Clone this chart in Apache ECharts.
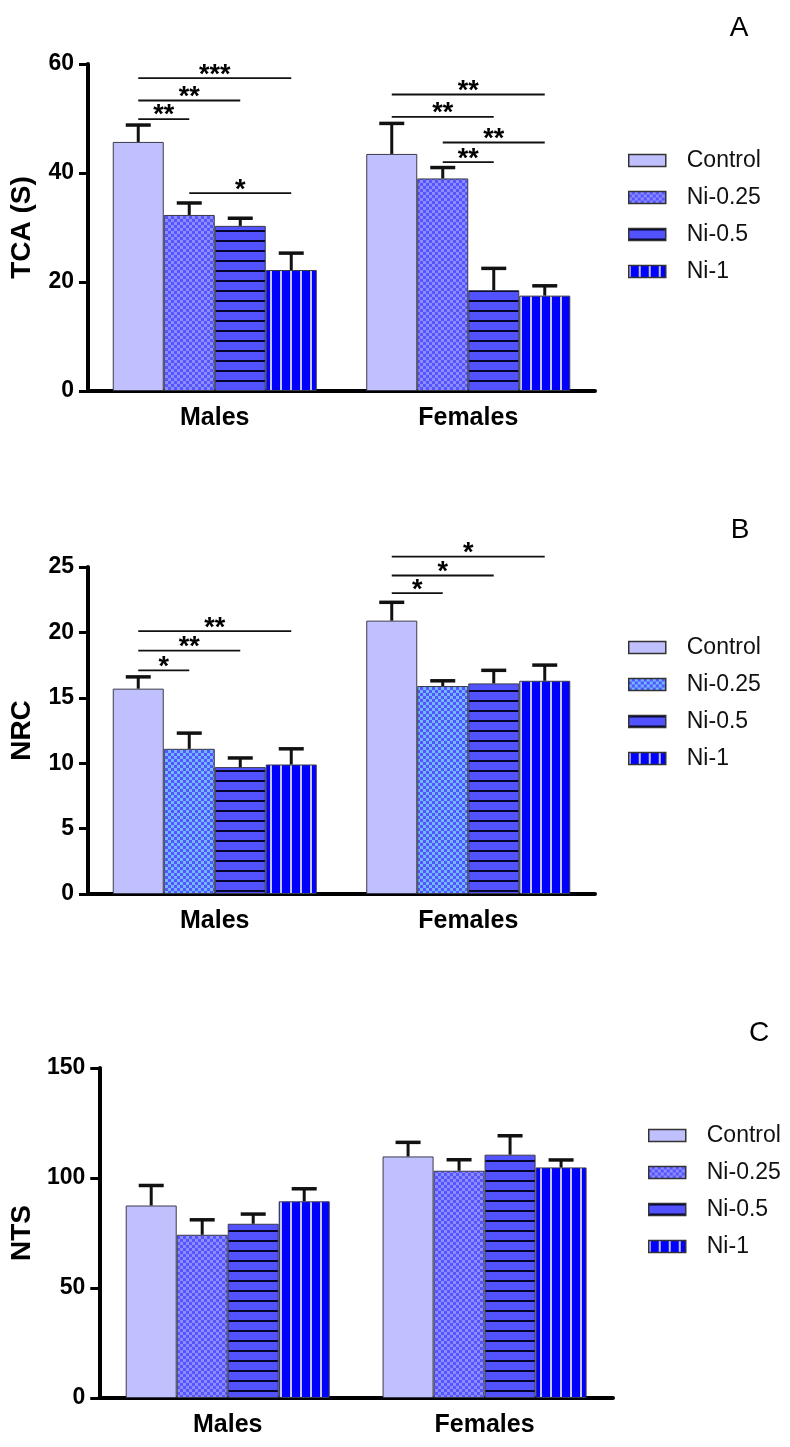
<!DOCTYPE html>
<html>
<head>
<meta charset="utf-8">
<script src="https://cdn.jsdelivr.net/npm/echarts@6/dist/echarts.min.js"></script>
<style>
html,body{margin:0;padding:0;background:#fff;}
#chart{width:790px;height:1447px;}
</style>
</head>
<body>
<div id="chart"></div>
<script>
// ---------------- DATA ----------------
const categories = ['Males', 'Females'];
const groupNames = ['Control', 'Ni-0.25', 'Ni-0.5', 'Ni-1'];

// Panel A: TCA (S)  -- rows follow groupNames, columns follow categories
const tcaMean = [[45.7, 43.5], [32.3, 39.0], [30.3, 18.5], [22.2, 17.5]];
const tcaSem  = [[3.1, 5.6], [2.2, 2.0], [1.4, 4.0], [3.1, 1.8]];
const tcaTicks = [0, 20, 40, 60];
// significance: [category, fromGroup, toGroup, y]
const tcaSig = [[0, 0, 3, 57.4], [0, 0, 2, 53.3], [0, 0, 1, 49.9], [0, 1, 3, 36.3],
                [1, 0, 3, 54.4], [1, 0, 2, 50.3], [1, 1, 3, 45.6], [1, 1, 2, 42.0]];
const tcaSigLabels = ['***', '**', '**', '*', '**', '**', '**', '**'];

// Panel B: NRC
const nrcMean = [[15.7, 20.9], [11.1, 15.9], [9.7, 16.1], [9.9, 16.3]];
const nrcSem  = [[0.9, 1.4], [1.2, 0.4], [0.7, 1.0], [1.2, 1.2]];
const nrcTicks = [0, 5, 10, 15, 20, 25];
const nrcSig = [[0, 0, 3, 20.1], [0, 0, 2, 18.6], [0, 0, 1, 17.1],
                [1, 0, 3, 25.8], [1, 0, 2, 24.35], [1, 0, 1, 23.0]];
const nrcSigLabels = ['**', '**', '*', '*', '*', '*'];

// Panel C: NTS
const ntsMean = [[87.5, 109.8], [74.2, 103.3], [79.2, 110.6], [89.4, 104.8]];
const ntsSem  = [[9.1, 6.4], [6.8, 5.0], [4.4, 8.6], [5.7, 3.4]];
const ntsTicks = [0, 50, 100, 150];

const panelLetters = ['A', 'B', 'C'];
const axisTitles = ['TCA (S)', 'NRC', 'NTS'];

// ---------------- STYLE ----------------
const FONT = "'Liberation Sans', Arial, Helvetica, sans-serif";
const BAR_W = 51;

function makeCanvas(w, h, draw) {
  const c = document.createElement('canvas');
  c.width = w; c.height = h;
  draw(c.getContext('2d'));
  return c;
}
function checker(c1, c2, s) {
  return { image: makeCanvas(2 * s, 2 * s, ctx => {
    ctx.fillStyle = c1; ctx.fillRect(0, 0, 2 * s, 2 * s);
    ctx.fillStyle = c2; ctx.fillRect(0, 0, s, s); ctx.fillRect(s, s, s, s);
  }), repeat: 'repeat' };
}
const hLines = { image: makeCanvas(10, 10, ctx => {
  ctx.fillStyle = '#5252ff'; ctx.fillRect(0, 0, 10, 10);
  ctx.fillStyle = '#050530'; ctx.fillRect(0, 0, 10, 2);
}), repeat: 'repeat' };
const vLines = { image: makeCanvas(10, 10, ctx => {
  ctx.fillStyle = '#0000ff'; ctx.fillRect(0, 0, 10, 10);
  ctx.fillStyle = '#c4c4ff'; ctx.fillRect(0, 0, 2, 10);
}), repeat: 'repeat' };
const checkA = checker('#5555ff', '#8c8cff', 3);
const checkB = checker('#5555ff', '#70b8ff', 3);
const controlFill = '#c0c0ff';

const panelFills = [
  [controlFill, checkA, hLines, vLines],
  [controlFill, checkB, hLines, vLines],
  [controlFill, checkA, hLines, vLines]
];

const grids = [
  { left: 86, top: 64, width: 509, height: 327 },
  { left: 86, top: 567, width: 509, height: 327 },
  { left: 99, top: 1068, width: 514, height: 330 }
];
const tickSets = [tcaTicks, nrcTicks, ntsTicks];
const means = [tcaMean, nrcMean, ntsMean];
const sems = [tcaSem, nrcSem, ntsSem];
const sigs = [tcaSig, nrcSig, []];
const sigLabels = [tcaSigLabels, nrcSigLabels, []];
const legendPos = [
  { left: 628, top: 149 }, { left: 628, top: 636 }, { left: 648, top: 1124 }
];
const letterPos = [[739, 28], [740, 530], [759, 1033]];

const option = {
  animation: false,
  backgroundColor: '#fff',
  textStyle: { fontFamily: FONT },
  grid: grids.map(g => Object.assign({ containLabel: false }, g)),
  xAxis: grids.map((g, i) => ({
    type: 'category', gridIndex: i, data: categories,
    axisLine: { lineStyle: { color: '#000', width: 4 } },
    axisTick: { alignWithLabel: true, length: 9, lineStyle: { color: '#000', width: 3 } },
    axisLabel: { color: '#000', fontSize: 25, fontWeight: 'bold', margin: 15, fontFamily: FONT }
  })),
  yAxis: tickSets.map((t, i) => ({
    type: 'value', gridIndex: i, min: t[0], max: t[t.length - 1],
    interval: t[1] - t[0],
    name: axisTitles[i], nameLocation: 'middle', nameGap: 52,
    nameTextStyle: { color: '#000', fontSize: 28, fontWeight: 'bold', fontFamily: FONT },
    axisLine: { show: true, lineStyle: { color: '#000', width: 4 } },
    axisTick: { show: true, length: 9, lineStyle: { color: '#000', width: 3 } },
    axisLabel: { color: '#000', fontSize: 23, fontWeight: 'bold', margin: 14, fontFamily: FONT },
    splitLine: { show: false }
  })),
  legend: legendPos.map((p, i) => ({
    left: p.left, top: p.top, orient: 'vertical', padding: 0,
    itemWidth: 37, itemHeight: 12, itemGap: 14, selectedMode: false,
    icon: 'rect',
    textStyle: { fontSize: 23, color: '#111', fontFamily: FONT, padding: [0, 0, 0, 16] },
    data: groupNames.map((n, k) => ({
      name: n,
      itemStyle: { color: panelFills[i][k], borderColor: '#333', borderWidth: 1.5 }
    }))
  })),
  graphic: panelLetters.map((L, i) => ({
    type: 'text', x: letterPos[i][0], y: letterPos[i][1],
    style: { text: L, fill: '#000', font: '28px ' + FONT, textAlign: 'center', textVerticalAlign: 'middle' }
  })),
  series: []
};

for (let p = 0; p < 3; p++) {
  groupNames.forEach((name, k) => {
    option.series.push({
      type: 'bar', name: name, xAxisIndex: p, yAxisIndex: p,
      data: means[p][k], barWidth: BAR_W, barGap: '0%',
      itemStyle: { color: panelFills[p][k], borderColor: '#3a3a4a', borderWidth: 1 },
      z: 2
    });
  });
  // error bars (upper only)
  const errData = [];
  for (let k = 0; k < 4; k++) for (let c = 0; c < 2; c++) errData.push([c, k, means[p][k][c], sems[p][k][c]]);
  option.series.push({
    type: 'custom', name: 'err' + p, xAxisIndex: p, yAxisIndex: p, z: 3,
    data: errData,
    renderItem: function (params, api) {
      const c = api.value(0), k = api.value(1), m = api.value(2), s = api.value(3);
      const base = api.coord([c, m]);
      const top = api.coord([c, m + s]);
      const x = base[0] + (k - 1.5) * BAR_W;
      return { type: 'group', children: [
        { type: 'line', shape: { x1: x, y1: base[1], x2: x, y2: top[1] }, style: { stroke: '#111', lineWidth: 3 } },
        { type: 'line', shape: { x1: x - 12.5, y1: top[1], x2: x + 12.5, y2: top[1] }, style: { stroke: '#111', lineWidth: 3.5 } }
      ] };
    }
  });
  if (sigs[p].length) {
    const labels = sigLabels[p];
    option.series.push({
      type: 'custom', name: 'sig' + p, xAxisIndex: p, yAxisIndex: p, z: 4,
      data: sigs[p],
      renderItem: function (params, api) {
        const c = api.value(0), a = api.value(1), b = api.value(2), y = api.value(3);
        const pt = api.coord([c, y]);
        const x1 = pt[0] + (a - 1.5) * BAR_W, x2 = pt[0] + (b - 1.5) * BAR_W;
        return { type: 'group', children: [
          { type: 'line', shape: { x1: x1, y1: pt[1], x2: x2, y2: pt[1] }, style: { stroke: '#111', lineWidth: 1.8 } },
          { type: 'text', style: { text: labels[params.dataIndex], x: (x1 + x2) / 2, y: pt[1] - 3,
              fill: '#000', font: 'bold 27px ' + FONT, textAlign: 'center', textVerticalAlign: 'middle' } }
        ] };
      }
    });
  }
}

const chart = echarts.init(document.getElementById('chart'), null, { renderer: 'canvas' });
chart.setOption(option);
</script>
</body>
</html>
